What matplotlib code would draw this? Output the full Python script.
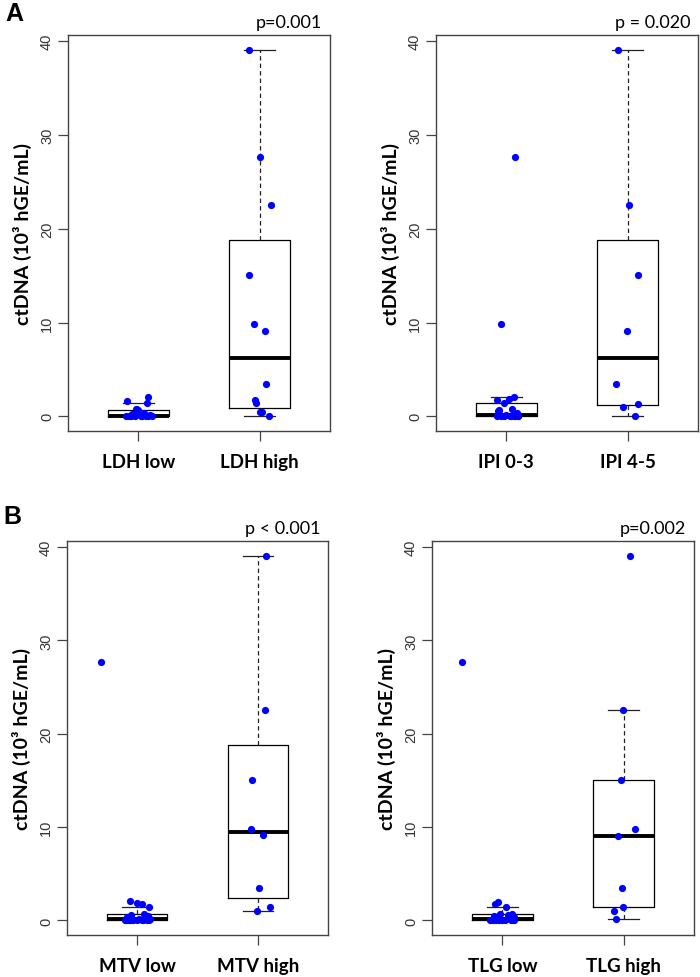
import numpy as np
import matplotlib
matplotlib.use("Agg")
import matplotlib.pyplot as plt

# ctDNA values (10^3 hGE/mL), one list per group
ldh_low = [2.06, 1.65, 1.45, 0.75, 0.64, 0.35, 0.2, 0.1, 0.05, 0.04, 0.03, 0.02, 0.01, 0.0, 0.0, 0.0, 0.0]
ldh_high = [39.1, 27.7, 22.5, 15.1, 9.8, 9.1, 3.4, 1.7, 1.4, 0.46, 0.46, 0.0]
ipi_low = [27.7, 9.8, 2.1, 1.8, 1.74, 1.46, 0.75, 0.64, 0.57, 0.35, 0.14,
           0.1, 0.05, 0.04, 0.03, 0.02, 0.01, 0.0, 0.0, 0.0, 0.0]
ipi_high = [39.1, 22.5, 15.1, 9.1, 3.4, 1.36, 1.0, 0.0]
mtv_low = [27.7, 2.06, 1.85, 1.78, 1.45, 0.71, 0.6, 0.5, 0.35, 0.2, 0.1,
           0.05, 0.04, 0.03, 0.02, 0.01, 0.0, 0.0, 0.0, 0.0, 0.0]
mtv_high = [39.1, 22.5, 15.1, 9.8, 9.2, 3.5, 1.4, 1.0]
tlg_low = [27.7, 2.0, 1.8, 1.45, 0.7, 0.64, 0.6, 0.5, 0.4, 0.3, 0.1,
           0.05, 0.04, 0.03, 0.02, 0.01, 0.0, 0.0, 0.0, 0.0]
tlg_high = [39.1, 22.5, 15.1, 9.8, 9.1, 3.5, 1.4, 1.0, 0.1]

# horizontal jitter of the dots, as seen in the picture
jit_ldh_low = [0.08, -0.09, 0.07, -0.02, 0.0, 0.05, -0.05, 0.1, -0.08, 0.03, 0.08, -0.03, 0.11, -0.1, 0.02, 0.06, -0.06]
jit_ldh_high = [-0.09, 0.005, 0.09, -0.085, -0.044, 0.047, 0.055, -0.04, -0.03, 0.0, 0.02, 0.074]
jit_ipi_low = [0.07, -0.04, 0.06, 0.02, -0.08, -0.02, 0.05, -0.06, -0.07, 0.09, 0.0,
               -0.05, 0.04, 0.1, -0.02, 0.07, -0.08, 0.03, 0.1, -0.04, 0.06]
jit_ipi_high = [-0.083, 0.008, 0.086, -0.005, -0.096, 0.086, -0.041, 0.058]
jit_mtv_low = [-0.3, -0.06, 0.0, 0.04, 0.1, 0.06, -0.05, 0.09, -0.08, 0.02, 0.11,
               -0.1, 0.05, -0.03, 0.08, -0.07, 0.0, 0.1, -0.06, 0.04, -0.09]
jit_mtv_high = [0.064, 0.055, -0.052, -0.06, 0.041, 0.008, 0.1, -0.005]
jit_tlg_low = [-0.33, -0.04, -0.06, 0.03, 0.08, -0.02, 0.05, -0.07, 0.1, -0.04, 0.06,
               -0.08, 0.02, 0.09, -0.05, 0.07, -0.1, 0.0, 0.1, -0.03]
jit_tlg_high = [0.055, -0.005, -0.02, 0.09, -0.046, -0.013, -0.005, -0.083, -0.066]

panels = [
    (["LDH low", "LDH high"], [ldh_low, ldh_high], [jit_ldh_low, jit_ldh_high], "p=0.001"),
    (["IPI 0-3", "IPI 4-5"], [ipi_low, ipi_high], [jit_ipi_low, jit_ipi_high], "p = 0.020"),
    (["MTV low", "MTV high"], [mtv_low, mtv_high], [jit_mtv_low, jit_mtv_high], "p < 0.001"),
    (["TLG low", "TLG high"], [tlg_low, tlg_high], [jit_tlg_low, jit_tlg_high], "p=0.002"),
]

yticks = [0, 10, 20, 30, 40]


def r_stats(vals, label):
    # boxplot stats the way R's boxplot() computes them (fivenum hinges, 1.5 IQR)
    x = np.sort(np.asarray(vals, float))
    n = len(x)
    n4 = np.floor((n + 3) / 2) / 2
    d = np.array([1, n4, (n + 1) / 2, n + 1 - n4, n]) - 1
    q = 0.5 * (x[np.floor(d).astype(int)] + x[np.ceil(d).astype(int)])
    iqr = q[3] - q[1]
    lo = x[x >= q[1] - 1.5 * iqr].min()
    hi = x[x <= q[3] + 1.5 * iqr].max()
    return dict(med=q[2], q1=q[1], q3=q[3], whislo=lo, whishi=hi, fliers=[], label=label)


W, H = 700, 978
fig = plt.figure(figsize=(W / 100, H / 100), dpi=100)

# axes boxes in pixels: left, top, width, height
rects = [(68, 36, 262, 396), (436, 36, 262, 396), (67, 542, 261, 394), (432, 542, 262, 394)]

lab_font = ["Lato", "DejaVu Sans"]
num_font = ["Liberation Sans", "DejaVu Sans"]

for (names, groups, jits, ptxt), (l, t, w, h) in zip(panels, rects):
    ax = fig.add_axes([l / W, 1 - (t + h) / H, w / W, h / H])
    stats = [r_stats(g, n) for g, n in zip(groups, names)]
    ax.bxp(stats, positions=[1, 2], widths=0.5, showfliers=False,
           boxprops=dict(color="black", lw=0.9),
           medianprops=dict(color="black", lw=2.8, solid_capstyle="butt"),
           whiskerprops=dict(color="#222222", lw=0.9, linestyle=(0, (3.5, 2.5))),
           capprops=dict(color="#222222", lw=0.9))
    for i, (g, j) in enumerate(zip(groups, jits)):
        ax.plot(np.array(j) + i + 1, g, "o", color="#0000ff", ms=5.2, mec="none", zorder=3)

    allv = np.concatenate([np.asarray(g, float) for g in groups])
    pad = 0.04 * (allv.max() - allv.min())
    ax.set_ylim(allv.min() - pad, allv.max() + pad)
    ax.set_xlim(0.42, 2.58)

    for s in ax.spines.values():
        s.set_color("#444444")
        s.set_linewidth(1.0)
    ax.set_yticks(yticks)
    ax.set_yticklabels([str(v) for v in yticks], rotation=90, va="center",
                       family=num_font, fontsize=10.5, color="#333333")
    ax.tick_params(axis="y", length=7, width=0.9, color="#444444", pad=3)
    ax.set_xticks([1, 2])
    ax.set_xticklabels(names, family=lab_font, fontweight="bold", fontsize=13.5)
    ax.tick_params(axis="x", length=7, width=0.9, color="#444444", pad=9)
    ax.set_ylabel("ctDNA (10³ hGE/mL)", family=lab_font, fontweight="bold",
                  fontsize=14, labelpad=6)
    ax.text(0.97, 1.012, ptxt, transform=ax.transAxes, ha="right", va="bottom",
            family=lab_font, fontsize=13)

fig.text(5 / W, 1 - 14 / H, "A", family=["Liberation Sans", "DejaVu Sans"],
         fontweight="bold", fontsize=18, va="center", ha="left")
fig.text(3 / W, 1 - 517 / H, "B", family=["Liberation Sans", "DejaVu Sans"],
         fontweight="bold", fontsize=18, va="center", ha="left")

fig.savefig("out.png", dpi=100)
